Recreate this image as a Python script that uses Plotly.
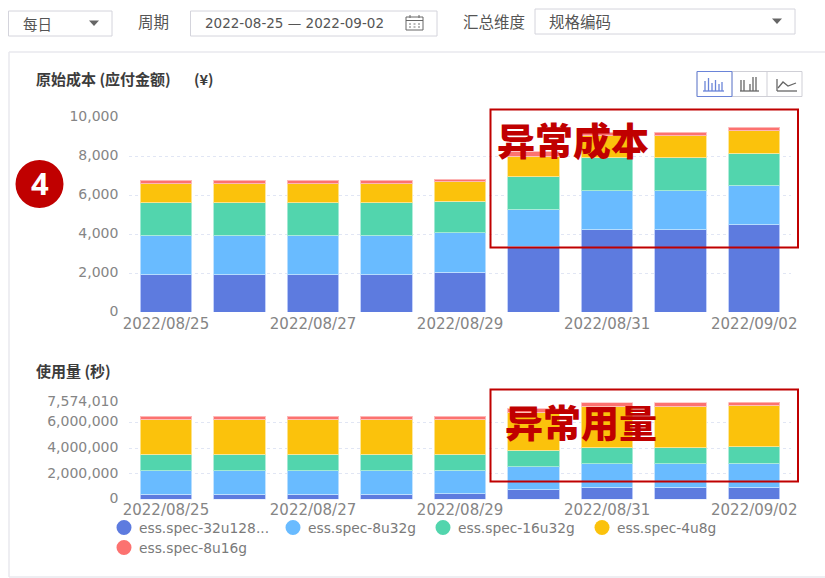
import plotly.graph_objects as go

W, H = 825, 578

dates = ["2022/08/25", "2022/08/26", "2022/08/27", "2022/08/28", "2022/08/29",
         "2022/08/30", "2022/08/31", "2022/09/01", "2022/09/02"]
tick_dates = dates[::2]
series_names = ["ess.spec-32u128...", "ess.spec-8u32g", "ess.spec-16u32g", "ess.spec-4u8g", "ess.spec-8u16g"]
series_colors = ["#5d7bdf", "#69bbff", "#52d5ad", "#fbc20c", "#fc7270"]

cost_32u128 = [1916, 1916, 1916, 1916, 2050, 3340, 4227, 4227, 4470]
cost_8u32 = [2024, 2024, 2024, 2024, 2010, 1935, 2003, 2003, 2035]
cost_16u32 = [1670, 1670, 1670, 1670, 1640, 1675, 1695, 1695, 1660]
cost_4u8 = [965, 965, 965, 965, 980, 1060, 1130, 1130, 1145]
cost_8u16 = [190, 190, 190, 190, 150, 210, 175, 175, 175]

usage_32u128 = [390000, 390000, 390000, 390000, 414000, 726000, 937000, 937000, 960000]
usage_8u32 = [1820000, 1820000, 1820000, 1820000, 1846000, 1824000, 1843000, 1843000, 1850000]
usage_16u32 = [1325000, 1325000, 1325000, 1325000, 1275000, 1275000, 1250000, 1250000, 1290000]
usage_4u8 = [2710000, 2710000, 2710000, 2710000, 2710000, 2965000, 3250000, 3250000, 3240000]
usage_8u16 = [255000, 255000, 255000, 255000, 255000, 280000, 260000, 260000, 234010]

cost_ticks = [0, 2000, 4000, 6000, 8000, 10000]
usage_ticks = [0, 2000000, 4000000, 6000000, 7574010]

GREY = "#858585"
CJK = "Noto Sans CJK SC"
LATIN = "DejaVu Sans"
RED = "#c00000"


def px(x):
    return x / W


def py(y):
    return 1 - y / H


fig = go.Figure()

cost_series = [cost_32u128, cost_8u32, cost_16u32, cost_4u8, cost_8u16]
usage_series = [usage_32u128, usage_8u32, usage_16u32, usage_4u8, usage_8u16]
light = ["rgba(190,205,250,0.9)", "rgba(190,225,255,0.9)", "rgba(170,235,215,0.9)",
         "rgba(253,230,150,0.9)", "rgba(253,190,190,0.9)"]
for name, color, edge, c_vals, u_vals in zip(series_names, series_colors, light, cost_series, usage_series):
    fig.add_bar(x=dates, y=c_vals, name=name, xaxis="x", yaxis="y", showlegend=False,
                marker=dict(color=color, line=dict(color=edge, width=1)))
    fig.add_bar(x=dates, y=u_vals, name=name, xaxis="x2", yaxis="y2", showlegend=False,
                marker=dict(color=color, line=dict(color=edge, width=1)))

shapes = []
ann = []


def rect(x0, y0, x1, y1, line="#d4d4dc", width=1, fill=None):
    shapes.append(dict(type="rect", xref="paper", yref="paper", x0=px(x0), x1=px(x1), y0=py(y0), y1=py(y1),
                       line=dict(color=line, width=width), fillcolor=fill))


def seg(x0, y0, x1, y1, color="#7d7d85", width=1):
    shapes.append(dict(type="line", xref="paper", yref="paper", x0=px(x0), x1=px(x1), y0=py(y0), y1=py(y1),
                       line=dict(color=color, width=width)))


def tri(cx, cy, s=5):
    path = f"M {px(cx - s)} {py(cy - 2.5)} L {px(cx + s)} {py(cy - 2.5)} L {px(cx)} {py(cy + 3)} Z"
    shapes.append(dict(type="path", xref="paper", yref="paper", path=path, fillcolor="#666", line=dict(width=0)))


def dot(cx, cy, r, color):
    shapes.append(dict(type="circle", xref="paper", yref="paper", x0=px(cx - r), x1=px(cx + r),
                       y0=py(cy - r), y1=py(cy + r), fillcolor=color, line=dict(width=0)))


def text(x, y, s, size=13, color="#555", font=CJK, anchor="left", weight=400):
    ann.append(dict(xref="paper", yref="paper", x=px(x), y=py(y), text=s,
                    showarrow=False, xanchor=anchor, yanchor="middle", borderpad=0, borderwidth=0,
                    font=dict(size=size, color=color, family=font, weight=weight)))


# panel
seg(9, 52, 825, 52, "#e9e9ee", 1.5)
seg(9, 52, 9, 577, "#e9e9ee", 1.5)
seg(9, 577, 825, 577, "#e9e9ee", 1.5)

# controls
rect(8.5, 11, 112, 36)
text(23, 23, "每日", 14.5)
tri(94, 23)
text(138, 21, "周期", 15.5)
rect(190.5, 11, 437, 36)
text(205, 23, "2022-08-25 — 2022-09-02", 13.5, "#555", LATIN)
rect(406, 17, 423, 30, "#666", 1)
seg(406, 20.5, 423, 20.5, "#666", 1)
seg(410, 15, 410, 18, "#666", 1)
seg(419, 15, 419, 18, "#666", 1)
for gy in (24, 27):
    for gx in (410, 414.5, 419):
        seg(gx - 1, gy, gx + 1, gy, "#777", 1)
text(463, 21, "汇总维度", 15.5)
rect(535, 9, 795, 34)
text(549, 21, "规格编码", 15.5)
tri(777, 21)

# chart-type buttons
rect(697, 71.5, 802, 96.5, "#cfcfd6", 1)
seg(732, 71.5, 732, 96.5, "#cfcfd6", 1)
seg(767, 71.5, 767, 96.5, "#cfcfd6", 1)
rect(697, 71.5, 732, 96.5, "#6a84d8", 1)
for x0, hgt in ((705, 10), (708.5, 13), (712, 8), (715.5, 11), (719, 7), (722, 9)):
    seg(x0, 91, x0, 91 - hgt, "#6a84d8", 1.3)
seg(703, 91, 724, 91, "#6a84d8", 1.3)
for x0, hgt in ((741, 11), (744, 11), (750, 7), (753, 14), (756, 14)):
    seg(x0, 91, x0, 91 - hgt, "#666", 1.3)
seg(740, 91, 759, 91, "#666", 1.3)
seg(777, 79, 777, 91, "#666", 1.3)
seg(777, 91, 797, 91, "#666", 1.3)
shapes.append(dict(type="path", xref="paper", yref="paper",
                   path=f"M {px(778)} {py(88)} L {px(783)} {py(82)} L {px(788)} {py(86)} L {px(796)} {py(83)}",
                   line=dict(color="#666", width=1.3)))

# titles
text(36, 79, "原始成本 (应付金额)", 15, "#3c3c3c", weight=700)
text(194, 79, "(¥)", 14.5, "#3c3c3c", weight=700)
text(36, 370, "使用量 (秒)", 15, "#3c3c3c", weight=700)

# call-outs
rect(490.5, 109.5, 798, 247.5, RED, 2)
rect(490.5, 389.5, 798, 481.5, RED, 2)
text(497, 138.5, "异常成本", 38, RED, weight=900)
text(505, 420, "异常用量", 38, RED, weight=900)
dot(39.5, 184, 24, RED)
text(39.5, 183, "4", 31, "#ffffff", "Noto Sans", "center", 700)

# legend
legend_slots = [(124, 527.5, 139), (293, 527.5, 308), (443, 527.5, 458), (602, 527.5, 617), (124, 547.5, 139)]
for (cx, cy, tx), name, color in zip(legend_slots, series_names, series_colors):
    dot(cx, cy, 7.5, color)
    text(tx, cy, name, 13.8, "#7a7a7a", LATIN)

x_common = dict(tickmode="array", tickvals=tick_dates, ticktext=tick_dates, categoryorder="array",
                categoryarray=dates, showgrid=False, zeroline=False, showline=False, automargin=False,
                ticks="", tickangle=0, tickfont=dict(family=LATIN, size=15, color=GREY),
                domain=[px(129.2), px(791)])
y_common = dict(showgrid=True, gridcolor="#e1e6f4", griddash="dot", gridwidth=1, zeroline=False, showline=False,
                automargin=False, ticklabelshift=-1,
                ticks="outside", ticklen=7, tickcolor="rgba(0,0,0,0)", tickformat=",d",
                tickfont=dict(family=LATIN, size=14, color=GREY))

fig.update_layout(
    width=W, height=H, margin=dict(l=0, r=0, t=0, b=0, pad=0), autosize=False,
    paper_bgcolor="white", plot_bgcolor="white",
    barmode="stack", bargap=0.3, showlegend=False,
    xaxis=dict(**x_common, anchor="y", ticklabelstandoff=1),
    xaxis2=dict(**x_common, anchor="y2", ticklabelstandoff=0),
    yaxis=dict(**y_common, domain=[py(312), py(117.3)], range=[0, 10000], tickmode="array", tickvals=cost_ticks,
               anchor="x"),
    yaxis2=dict(**y_common, domain=[py(499.3), py(402.3)], range=[0, 7574010], tickmode="array", tickvals=usage_ticks,
                anchor="x2"),
    shapes=shapes, annotations=ann,
)

fig.write_html("out.html", config=dict(displayModeBar=False),
               post_script="document.body.style.margin='0';")
